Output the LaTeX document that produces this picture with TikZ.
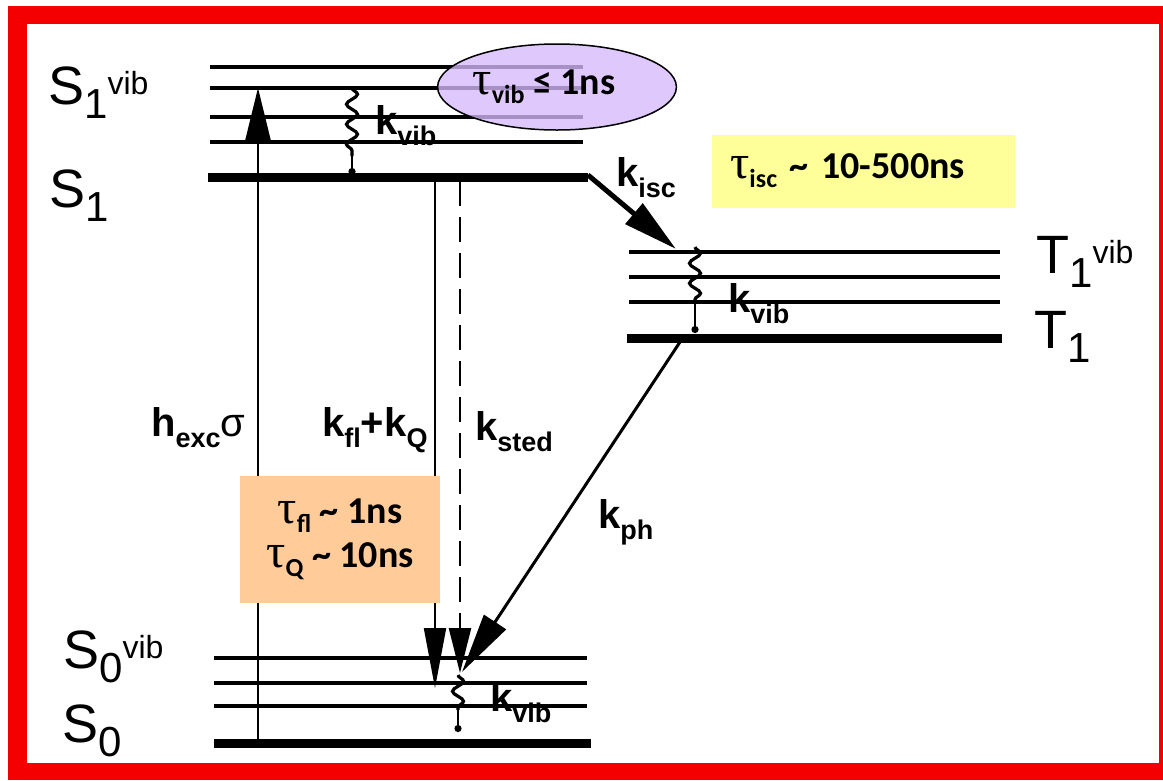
\documentclass[tikz,border=0pt]{standalone}
\usepackage{fontspec}
\setmainfont{Liberation Sans}
\newfontfamily\boxfont{Carlito}
\newfontfamily\taufont{Liberation Serif}
\usetikzlibrary{arrows.meta,decorations.pathmorphing,shapes.geometric}

\definecolor{framered}{RGB}{245,0,0}
\definecolor{vibpurple}{RGB}{214,186,252}
\definecolor{iscyellow}{RGB}{255,255,153}
\definecolor{flpeach}{RGB}{255,204,153}

% state labels and rate labels
\newcommand{\statelbl}[3]{{\fontsize{54}{54}\selectfont #1\raisebox{-14pt}{\fontsize{42}{42}\selectfont #2}\raisebox{10pt}{\fontsize{32}{32}\selectfont #3}}}
\newcommand{\ratelbl}[2]{{\fontsize{40}{40}\selectfont\bfseries #1\raisebox{-11pt}{\fontsize{27}{27}\selectfont #2}}}
\newcommand{\taulbl}[2]{{\taufont\mdseries\fontsize{48}{48}\selectfont τ}\raisebox{-9pt}{\fontsize{26}{26}\selectfont #1}#2}

\tikzset{
  level/.style={line width=3.5pt},
  ground level/.style={line width=9pt},
  lbl/.style={anchor=base west,inner sep=0pt},
  rate arrow/.style={line width=2pt,-{Triangle[length=55pt,width=22pt]}},
  wavy/.style={line width=3.2pt,decorate,decoration={snake,segment length=20pt,amplitude=5.5pt}},
  relax/.style={line width=2.5pt,-{Circle[length=7pt]}},
  timebox/.style={rectangle,inner sep=0pt,font=\boxfont\bfseries\fontsize{38}{44}\selectfont},
}

\begin{document}
\begin{tikzpicture}[x=1pt,y=-1pt]
\useasboundingbox (0,0) rectangle (1163,780);
\fill[framered] (8,6) rectangle (1163,780);
\fill[white] (27,24) rectangle (1159,763);

% singlet S1
\foreach \y in {67,88,117,142} \draw[level] (210,\y) -- (583,\y);
\draw[ground level] (208,177) -- (588,177);
% triplet T1
\foreach \y in {252,277,302} \draw[level] (629,\y) -- (1000,\y);
\draw[ground level] (627,338) -- (1002,338);
% ground state S0
\foreach \y in {658,683,706} \draw[level] (214,\y) -- (587,\y);
\draw[ground level] (214,743) -- (591,743);

\node[lbl] (s1vib) at (48,104) {\statelbl{S}{1}{vib}};
\node[lbl] (s1) at (49,207) {\statelbl{S}{1}{}};
\node[lbl] (t1vib) at (1036,273) {\statelbl{T}{1}{vib}};
\node[lbl] (t1) at (1034,348) {\statelbl{T}{1}{}};
\node[lbl] (s0vib) at (63,668) {\statelbl{S}{0}{vib}};
\node[lbl] (s0) at (62,742) {\statelbl{S}{0}{}};

\coordinate (exc-from) at (258,743);
\coordinate (exc-to) at (258,88);
\coordinate (fl-from) at (435,181);
\coordinate (fl-to) at (435,688);
\coordinate (sted-from) at (460,181);
\coordinate (sted-to) at (460,673);
\coordinate (isc-from) at (588,175);
\coordinate (isc-to) at (676,249);
\coordinate (ph-from) at (680,342);
\coordinate (ph-to) at (462,672);

\draw[rate arrow,-{Triangle[length=52pt,width=25pt]}] (exc-from) -- (exc-to);
\draw[rate arrow,-{Triangle[length=60pt,width=22pt]}] (fl-from) -- (fl-to);
\draw[rate arrow,line width=2.5pt,dash pattern=on 25pt off 11pt,-{Triangle[length=45pt,width=22pt]}] (sted-from) -- (sted-to);
\draw[rate arrow,line width=5pt,-{Triangle[length=55pt,width=26pt]}] (isc-from) -- (isc-to);
\draw[rate arrow,line width=3pt,-{Triangle[length=60pt,width=26pt]}] (ph-from) -- (ph-to);

% vibrational relaxation
\draw[wavy] (352,88) -- (352,156);
\draw[relax] (352,156) -- (352,175);
\draw[wavy] (695,247) -- (695,302);
\draw[relax] (695,302) -- (695,333);
\draw[wavy] (458,675) -- (458,710);
\draw[relax] (458,710) -- (458,732);

\node[lbl] (kvibs1) at (375,134) {\ratelbl{k}{vib}};
\node[lbl] (kvibt1) at (728,312) {\ratelbl{k}{vib}};
\node[lbl] (kvibs0) at (490,711) {\ratelbl{k}{vib}};
\node[lbl] (kisc) at (616,186) {\ratelbl{k}{isc}};
\node[lbl] (kph) at (598,528) {\ratelbl{k}{ph}};
\node[lbl] (hexc) at (151,436) {\ratelbl{h}{exc}{\fontsize{40}{40}\selectfont σ}};
\node[lbl] (kflq) at (322,436) {\ratelbl{k}{fl}\ratelbl{+k}{Q}};
\node[lbl] (ksted) at (475,440) {\ratelbl{k}{sted}};

% lifetimes
\node[ellipse,draw,line width=1.5pt,fill=vibpurple,fill opacity=0.78,text opacity=1,
  minimum width=224pt,minimum height=86pt,inner sep=0pt,font=\boxfont\bfseries\fontsize{38}{44}\selectfont]
  (tauvib) at (557,87) {\taulbl{vib}{ ≤ 1ns}\hspace*{26pt}};
\node[timebox,fill=iscyellow,anchor=west,minimum height=73pt,text width=267pt,inner xsep=18pt,align=left]
  (tauisc) at (712,171) {\taulbl{isc}{ \textasciitilde{} 10-500ns}};
\node[timebox,fill=flpeach,minimum width=200pt,minimum height=127pt,align=center]
  (taufl) at (340,539) {\taulbl{fl}{ \textasciitilde{} 1ns}\\\taulbl{Q}{ \textasciitilde{} 10ns}};
\end{tikzpicture}
\end{document}
